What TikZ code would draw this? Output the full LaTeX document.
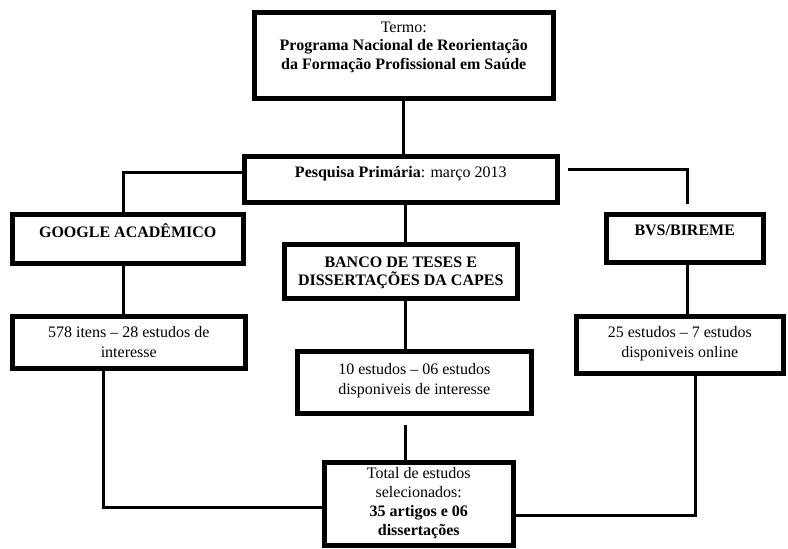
\documentclass[tikz,border=0pt]{standalone}
\usepackage{fontspec}
\setmainfont{Liberation Serif}
\begin{document}
\begin{tikzpicture}[x=1pt,y=-1pt,
  box/.style={draw, line width=4.5pt, rectangle, inner sep=0pt, anchor=north west},
  txt/.style={anchor=base, align=center, inner sep=0pt, font=\fontsize{16}{19.5}\selectfont},
  wire/.style={line width=3pt}]
\useasboundingbox (0,0) rectangle (788,549);
\fill[white] (0,0) rectangle (788,549);

% boxes
\node[box, minimum width=299pt, minimum height=86pt] (termo)  at (252,10)  {};
\node[box, minimum width=313pt, minimum height=46pt] (pesq)   at (242,154) {};
\node[box, minimum width=231pt, minimum height=49pt] (google) at (10,212)  {};
\node[box, minimum width=233pt, minimum height=54pt] (banco)  at (282,242) {};
\node[box, minimum width=157pt, minimum height=48pt] (bvs)    at (604,212) {};
\node[box, minimum width=233pt, minimum height=52pt] (rA)     at (10,314)  {};
\node[box, minimum width=234pt, minimum height=62pt] (rB)     at (295,349) {};
\node[box, minimum width=207pt, minimum height=57pt] (rC)     at (574,314) {};
\node[box, minimum width=189pt, minimum height=83pt] (total)  at (322,460) {};

% texts (anchor = baseline of the last line)
\node[txt, font=\fontsize{16}{18.5}\selectfont] (termoT) at (termo.north |- 0,69)
  {Termo:\\\textbf{Programa Nacional de Reorientação}\\\textbf{da Formação Profissional em Saúde}};
\node[txt] (pesqT) at (pesq.north |- 0,177) {\textbf{Pesquisa Primária}: março 2013};
\node[txt] (googleT) at (google.north |- 0,237) {\textbf{GOOGLE ACADÊMICO}};
\node[txt, font=\fontsize{16}{18}\selectfont] (bancoT) at (banco.north |- 0,285)
  {\textbf{BANCO DE TESES E}\\\textbf{DISSERTAÇÕES DA CAPES}};
\node[txt] (bvsT) at (bvs.north |- 0,235) {\textbf{BVS/BIREME}};
\node[txt] (rAT) at (rA.north |- 0,357) {578 itens – 28 estudos de\\interesse};
\node[txt] (rBT) at (rB.north |- 0,394) {10 estudos – 06 estudos\\disponiveis de interesse};
\node[txt] (rCT) at (rC.north |- 0,357) {25 estudos – 7 estudos\\disponiveis online};
\node[txt, font=\fontsize{16}{19}\selectfont] (totalT) at (total.north |- 0,535)
  {Total de estudos\\selecionados:\\\textbf{35 artigos e 06}\\\textbf{dissertações}};

% connectors
\draw[wire] (termo.south) -- (termo.south |- pesq.north);
\draw[wire] ([yshift=7pt]pesq.west) -| ([xshift=-4.5pt]google.north);
\draw[wire] ([xshift=8pt,yshift=10pt]pesq.east) -| ([xshift=2.5pt,yshift=8pt]bvs.north);
\draw[wire] ([xshift=4.5pt]pesq.south) -- ([xshift=4.5pt]banco.north);
\draw[wire] ([xshift=-4.5pt]google.south) -- ([xshift=-4.5pt]google.south |- rA.north);
\draw[wire] ([xshift=4.5pt]banco.south) -- ([xshift=4.5pt]banco.south |- rB.north);
\draw[wire] ([xshift=2.5pt]bvs.south) -- ([xshift=2.5pt]bvs.south |- rC.north);
\draw[wire] ([xshift=-13.5pt]total.north) -- ++(0,-35);
\draw[wire] ([xshift=-25.5pt]rA.south) |- ([yshift=-3.5pt]total.west);
\draw[wire] ([xshift=15.5pt]rC.south) |- ([yshift=-11.5pt]total.east);
\end{tikzpicture}
\end{document}
